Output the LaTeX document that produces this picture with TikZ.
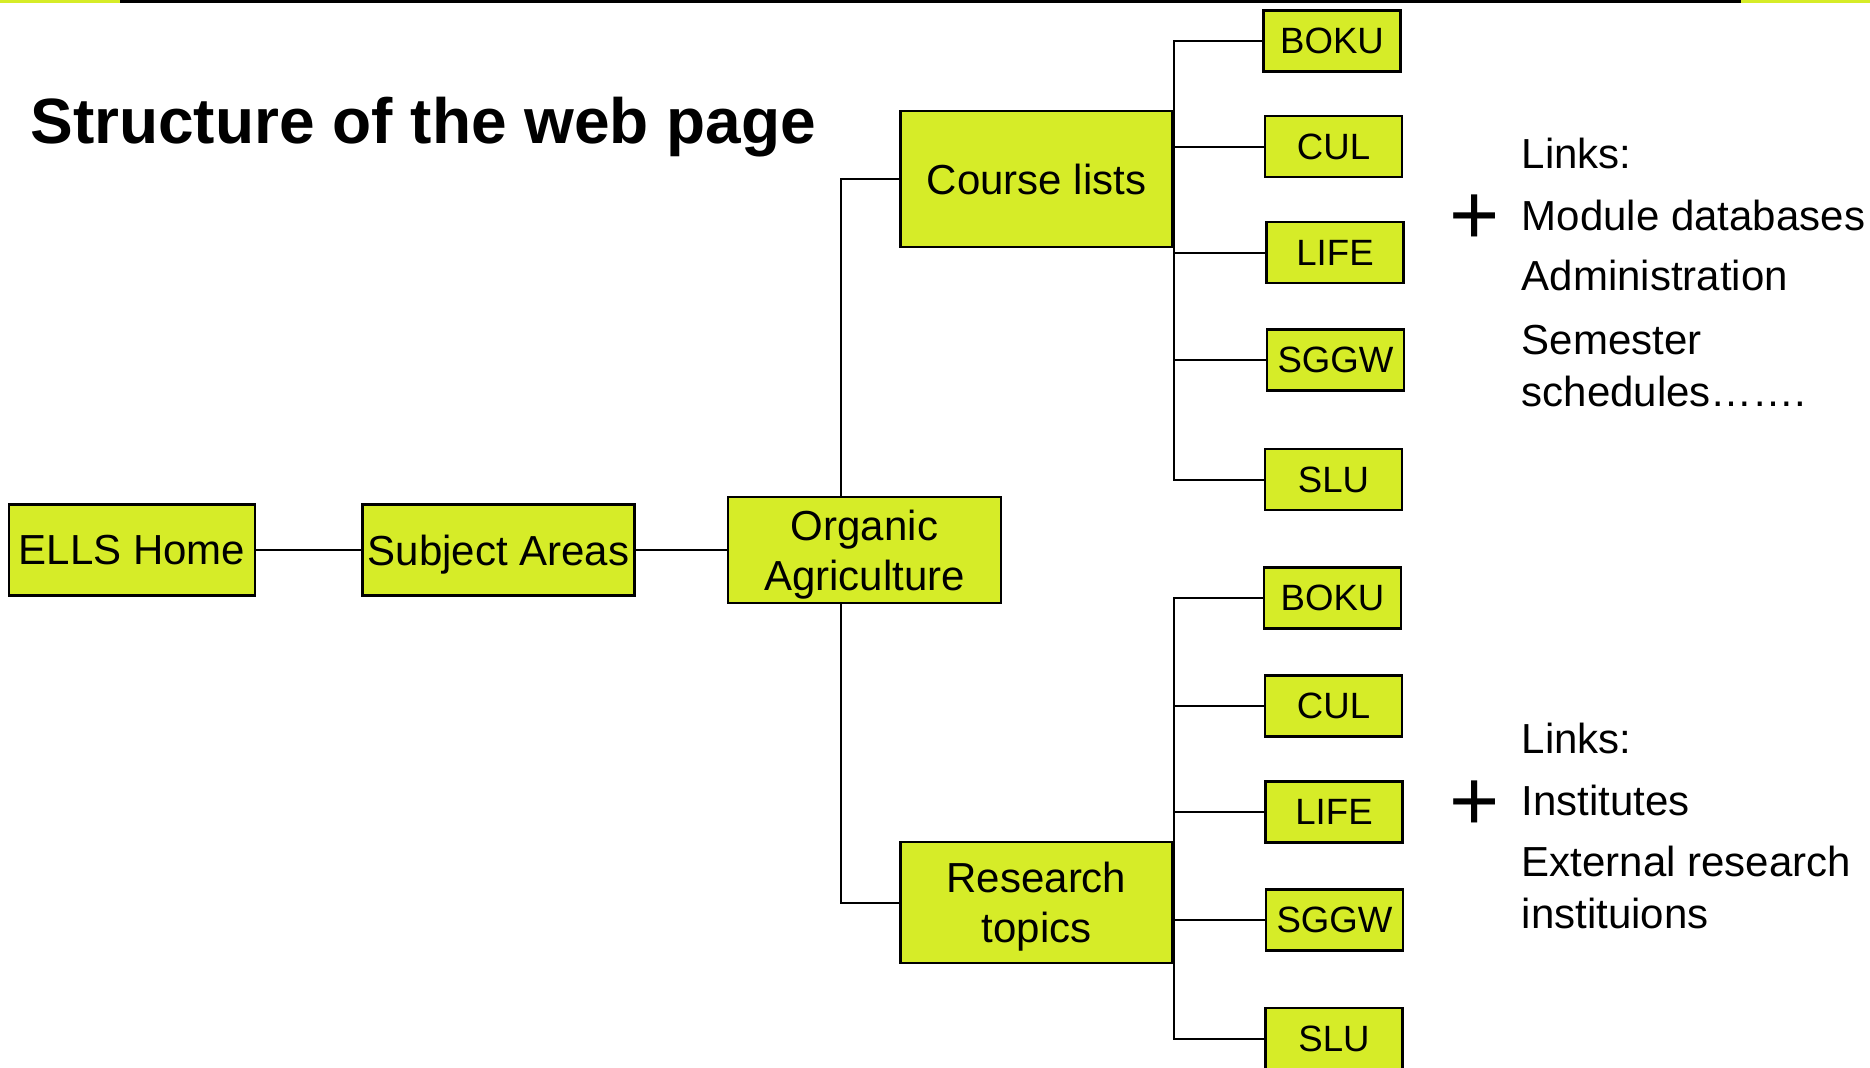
\documentclass[tikz,border=0pt]{standalone}
\usepackage{fontspec}
\setmainfont{Liberation Sans}
\usepackage{xcolor}
\definecolor{ellsyellow}{RGB}{214,236,40}
\tikzset{
  box/.style={draw=black, line width=1.2pt, fill=ellsyellow, inner sep=0pt,
    align=center, text depth=0pt, font=\fontsize{21}{25}\selectfont},
  unibox/.style={box, minimum width=68.5pt, minimum height=30.5pt,
    font=\fontsize{18.3}{22}\selectfont},
  linktext/.style={anchor=base west, inner sep=0pt, font=\fontsize{21}{25}\selectfont},
  plus/.style={inner sep=0pt, font=\fontsize{43}{43}\selectfont},
  conn/.style={line width=1pt}
}

\begin{document}
\begin{tikzpicture}[x=0.5pt, y=-0.5pt]
  \useasboundingbox (0,0) rectangle (1870,1067);
  \fill[ellsyellow] (0,0) rectangle (120,3);
  \fill[black] (120,0) rectangle (1741,3);
  \fill[ellsyellow] (1741,0) rectangle (1870,3);

  \node[anchor=base west, inner sep=0pt, font=\bfseries\fontsize{32}{38}\selectfont]
    (title) at (30,143.5) {Structure of the web page};

  \node[box, minimum width=123pt, minimum height=45.5pt] (home) at (132,550) {ELLS Home};
  \node[box, minimum width=136pt, minimum height=45.5pt] (subj) at (498.5,550) {Subject Areas};
  \node[box, minimum width=136.5pt, minimum height=53pt] (org) at (864.5,550) {Organic\\Agriculture};
  \node[box, minimum width=136pt, minimum height=68pt] (cl) at (1036.5,179) {Course lists};
  \node[box, minimum width=136pt, minimum height=60.5pt] (rt) at (1036.5,902.5) {Research\\topics};

  \node[unibox] (b1) at (1332,41) {BOKU};
  \node[unibox] (c1) at (1333.5,146.5) {CUL};
  \node[unibox] (l1) at (1335,252.5) {LIFE};
  \node[unibox] (s1) at (1335.5,360) {SGGW};
  \node[unibox] (u1) at (1333.5,479.5) {SLU};

  \node[unibox] (b2) at (1332.5,598) {BOKU};
  \node[unibox] (c2) at (1333.5,706) {CUL};
  \node[unibox] (l2) at (1334,812) {LIFE};
  \node[unibox] (s2) at (1334.5,920) {SGGW};
  \node[unibox] (u2) at (1334,1038.5) {SLU};

  \draw[conn] (home.east) -- (subj.west);
  \draw[conn] (subj.east) -- (org.west);
  \draw[conn] (cl.west) -| ([xshift=-12pt]org.north);
  \draw[conn] (rt.west) -| ([xshift=-12pt]org.south);

  \draw[conn] (b1.west) -- (b1.west -| cl.east) -- (u1.west -| cl.east) -- (u1.west);
  \draw[conn] (c1.west) -- (c1.west -| cl.east);
  \draw[conn] (l1.west) -- (l1.west -| cl.east);
  \draw[conn] (s1.west) -- (s1.west -| cl.east);

  \draw[conn] (b2.west) -- (b2.west -| rt.east) -- (u2.west -| rt.east) -- (u2.west);
  \draw[conn] (c2.west) -- (c2.west -| rt.east);
  \draw[conn] (l2.west) -- (l2.west -| rt.east);
  \draw[conn] (s2.west) -- (s2.west -| rt.east);

  % links for the course lists
  \node[plus] (p1) at (1475,220) {+};
  \node[linktext] (lk1) at (1521.5,168) {Links:};
  \node[linktext] (md1) at (1521.5,230) {Module databases};
  \node[linktext] (ad1) at (1521.5,290.5) {Administration};
  \node[linktext] (se1) at (1521.5,354) {Semester};
  \node[linktext] (sc1) at (1521.5,406) {schedules…….};

  % links for the research topics
  \node[plus] (p2) at (1475,805.5) {+};
  \node[linktext] (lk2) at (1521.5,753) {Links:};
  \node[linktext] (in2) at (1521.5,815.5) {Institutes};
  \node[linktext] (ex2) at (1521.5,876) {External research};
  \node[linktext] (it2) at (1521.5,928) {instituions};
\end{tikzpicture}
\end{document}
